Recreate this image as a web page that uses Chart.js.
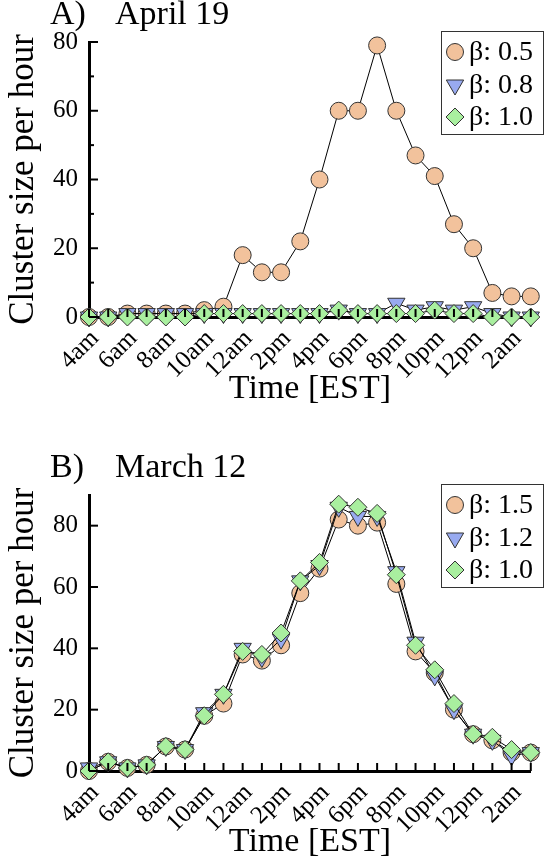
<!DOCTYPE html>
<html>
<head>
<meta charset="utf-8">
<script src="https://cdn.jsdelivr.net/npm/chart.js@4.4.1/dist/chart.umd.min.js"></script>
<style>
    body { margin: 0; background: #fff; width: 559px; height: 865px; overflow: hidden; position: relative; }
    canvas { position: absolute; left: 0; }
    #panelA { top: 0; }
    #panelB { top: 453px; }
</style>
</head>
<body>
<canvas id="panelA" width="559" height="412"></canvas>
<canvas id="panelB" width="559" height="412"></canvas>
<script>
// =========================================================
// DATA
// =========================================================
const hours = ['4am', '5am', '6am', '7am', '8am', '9am', '10am', '11am', '12am', '1pm', '2pm', '3pm',
               '4pm', '5pm', '6pm', '7pm', '8pm', '9pm', '10pm', '11pm', '12pm', '1am', '2am', '3am'];

// Panel A - April 19
const aprilBeta05 = [0, 0, 1, 1, 1, 1, 2, 3, 18, 13, 13, 22, 40, 60, 60, 79, 60, 47, 41, 27, 20, 7, 6, 6];
const aprilBeta08 = [0, 0, 1, 1, 1, 1, 1, 1, 1, 1, 1, 1, 1, 2, 1, 1, 4, 2, 3, 2, 3, 1, 0, 0];
const aprilBeta10 = [0, 0, 0, 0, 0, 0, 1, 1, 1, 1, 1, 1, 1, 2, 1, 1, 1, 1, 2, 1, 1, 0, 0, 0];

// Panel B - March 12
const marchBeta15 = [0, 3, 1, 2, 8, 7, 18, 22, 38, 36, 41, 58, 66, 82, 80, 81, 61, 39, 32, 20, 12, 10, 6, 6];
const marchBeta12 = [1, 3, 1, 2, 8, 7, 19, 25, 40, 37, 43, 62, 67, 86, 83, 83, 65, 42, 31, 20, 12, 10, 5, 6];
const marchBeta10 = [0, 3, 1, 2, 8, 7, 18, 25, 39, 38, 45, 62, 68, 87, 86, 84, 64, 41, 33, 22, 12, 11, 7, 6];

const SERIF = "'Liberation Serif', 'Times New Roman', serif";

// marker styles: circle / down triangle / diamond
const MARKERS = [
    { pointStyle: 'circle',   rotation: 0,   radius: 8.5, fill: '#F2C29C' },
    { pointStyle: 'triangle', rotation: 180, radius: 10,  fill: '#98AAF0' },
    { pointStyle: 'rectRot',  rotation: 0,   radius: 9,   fill: '#A9EF9F' }
];

// =========================================================
// PLUGIN: inward ticks, panel title, boxed legend
// =========================================================
const panelDecor = {
    id: 'panelDecor',
    afterDraw(chart, args, opts) {
        const ctx = chart.ctx;
        const { left, bottom } = chart.chartArea;
        const xs = chart.scales.x, ys = chart.scales.y;
        ctx.save();

        // inward tick marks
        ctx.strokeStyle = '#000';
        ctx.lineWidth = 2;
        ys.ticks.forEach(t => {
            const py = ys.getPixelForValue(t.value);
            const len = t.value % 20 === 0 ? 9 : 5;
            ctx.beginPath(); ctx.moveTo(left, py); ctx.lineTo(left + len, py); ctx.stroke();
        });
        xs.ticks.forEach((t, i) => {
            const px = xs.getPixelForTick(i);
            ctx.beginPath(); ctx.moveTo(px, bottom); ctx.lineTo(px, bottom - 8); ctx.stroke();
        });

        // panel title
        ctx.fillStyle = '#000';
        ctx.font = '34px ' + SERIF;
        ctx.textAlign = 'left';
        ctx.textBaseline = 'alphabetic';
        ctx.fillText(opts.tag, 50, 24);
        ctx.fillText(opts.title, 115, 24);

        // legend box
        ctx.strokeStyle = '#333';
        ctx.lineWidth = 1;
        ctx.strokeRect(441.5, 31.5, 102, 103);
        ctx.font = '28px ' + SERIF;
        ctx.textBaseline = 'middle';
        const rows = [52, 85, 117];
        chart.data.datasets.forEach((ds, i) => {
            const m = MARKERS[i];
            ctx.fillStyle = m.fill;
            ctx.strokeStyle = '#333';
            ctx.lineWidth = 1;
            Chart.helpers.drawPoint(ctx, { pointStyle: m.pointStyle, rotation: m.rotation, radius: m.radius, borderWidth: 1 }, 455, rows[i]);
            ctx.fillStyle = '#000';
            ctx.fillText(ds.label, 469, rows[i] + 1);
        });
        ctx.restore();
    }
};

// =========================================================
// BUILD A PANEL
// =========================================================
function buildPanel(canvasId, cfg) {
    const datasets = cfg.series.map((vals, i) => ({
        label: cfg.labels[i],
        data: vals,
        order: 3 - i,
        borderColor: '#000',
        borderWidth: 1,
        tension: 0,
        clip: false,
        pointStyle: MARKERS[i].pointStyle,
        pointRotation: MARKERS[i].rotation,
        pointRadius: MARKERS[i].radius,
        pointHoverRadius: MARKERS[i].radius,
        pointBackgroundColor: MARKERS[i].fill,
        pointBorderColor: '#333',
        pointBorderWidth: 1
    }));

    return new Chart(document.getElementById(canvasId), {
        type: 'line',
        data: { labels: hours, datasets },
        options: {
            responsive: false,
            animation: false,
            devicePixelRatio: 1,
            layout: { padding: { top: 42, right: 10, left: 0, bottom: 0 } },
            plugins: {
                legend: { display: false },
                tooltip: { enabled: false },
                panelDecor: { tag: cfg.tag, title: cfg.title }
            },
            scales: {
                x: {
                    z: 1,
                    afterFit: s => { s.height = 412 - cfg.bottom; },
                    grid: { display: true, drawOnChartArea: false, drawTicks: false },
                    border: { display: true, color: '#000', width: 3 },
                    ticks: {
                        autoSkip: false,
                        minRotation: 45,
                        maxRotation: 45,
                        padding: 7,
                        labelOffset: 6,
                        color: '#000',
                        font: { family: SERIF, size: 25 },
                        callback: function (v, idx) { return idx % 2 === 0 ? this.getLabelForValue(v) : ''; }
                    },
                    title: {
                        display: true,
                        text: 'Time [EST]',
                        color: '#000',
                        font: { family: SERIF, size: 34, lineHeight: 1 },
                        padding: { top: 0, bottom: 6 }
                    }
                },
                y: {
                    z: 1,
                    min: 0,
                    max: cfg.yMax,
                    afterFit: s => { s.width = 89; },
                    grid: { display: true, drawOnChartArea: false, drawTicks: false },
                    border: { display: true, color: '#000', width: 3 },
                    ticks: {
                        stepSize: 10,
                        padding: 11,
                        color: '#000',
                        font: { family: SERIF, size: 25 },
                        callback: v => (v % 20 === 0 ? v : '')
                    },
                    title: {
                        display: true,
                        text: 'Cluster size per hour',
                        color: '#000',
                        font: { family: SERIF, size: 35, lineHeight: 1 },
                        padding: { top: 6, bottom: 0 }
                    }
                }
            }
        },
        plugins: [panelDecor]
    });
}

buildPanel('panelA', {
    tag: 'A)', title: 'April 19', yMax: 80, bottom: 317,
    labels: ['β: 0.5', 'β: 0.8', 'β: 1.0'],
    series: [aprilBeta05, aprilBeta08, aprilBeta10]
});

buildPanel('panelB', {
    tag: 'B)', title: 'March 12', yMax: 90, bottom: 318,
    labels: ['β: 1.5', 'β: 1.2', 'β: 1.0'],
    series: [marchBeta15, marchBeta12, marchBeta10]
});
</script>
</body>
</html>
